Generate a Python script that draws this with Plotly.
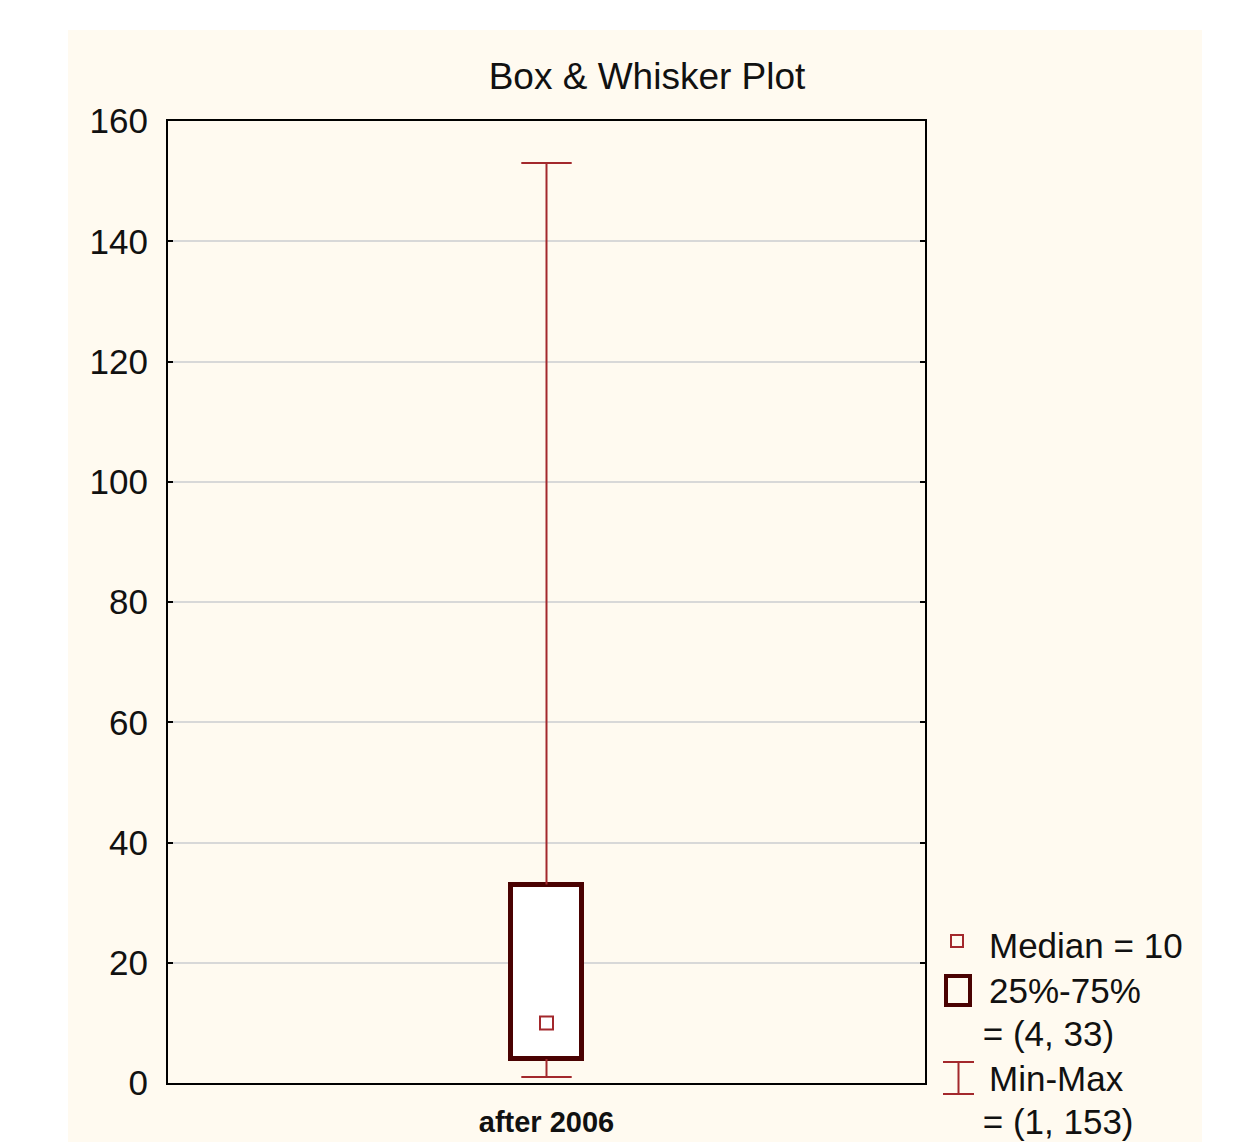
import plotly.graph_objects as go

# ---- data ----
categories = ["after 2006"]
q1_vals = [4]
median_vals = [10]
q3_vals = [33]
min_vals = [1]
max_vals = [153]
y_ticks = [0, 20, 40, 60, 80, 100, 120, 140, 160]

# ---- geometry helpers (page pixel -> paper) for decorations ----
OFF = 8  # default body margin of the html page
W, H = 1239 - OFF, 1142 - OFF
L, R, T, B = 168 - OFF, 925 - OFF, 121 - OFF, 1083 - OFF
def px(x):
    return (x - OFF - L) / (R - L)
def py(y):
    return (B - (y - OFF)) / (B - T)

WHISKER = "#A3282C"
BOXC = "#4A0202"
CREAM = "#FFFAF0"
TXT = "#111111"
FONT = "Liberation Sans, Arial, sans-serif"

fig = go.Figure()

# box (25%-75%)
fig.add_trace(go.Bar(
    x=categories,
    y=[b - a for a, b in zip(q1_vals, q3_vals)],
    base=q1_vals,
    width=0.095,
    marker=dict(color="white", line=dict(color=BOXC, width=5)),
    showlegend=False, hoverinfo="skip",
))

# whisker lines
wx, wy = [], []
for c, lo, a, b, hi in zip(categories, min_vals, q1_vals, q3_vals, max_vals):
    wx += [c, c, None, c, c, None]
    wy += [lo, a, None, b, hi, None]
fig.add_trace(go.Scatter(
    x=wx, y=wy, mode="lines",
    line=dict(color=WHISKER, width=2),
    showlegend=False, hoverinfo="skip",
))

# whisker caps
fig.add_trace(go.Scatter(
    x=categories * 2, y=min_vals + max_vals, mode="markers",
    marker=dict(symbol="line-ew", size=36, line=dict(color=WHISKER, width=2)),
    showlegend=False, hoverinfo="skip",
))

# median
fig.add_trace(go.Scatter(
    x=categories, y=median_vals, mode="markers",
    marker=dict(symbol="square-open", size=13, color=WHISKER,
                line=dict(color=WHISKER, width=2)),
    showlegend=False, hoverinfo="skip",
))

shapes = [
    # cream panel
    dict(type="rect", xref="paper", yref="paper", layer="below",
         x0=px(68), x1=px(1202), y0=py(1160), y1=py(30),
         fillcolor=CREAM, line=dict(width=0)),
    # legend: median icon
    dict(type="rect", xref="paper", yref="paper",
         x0=px(951), x1=px(963), y0=py(947), y1=py(935),
         fillcolor="rgba(0,0,0,0)", line=dict(color=WHISKER, width=2)),
    # legend: box icon
    dict(type="rect", xref="paper", yref="paper",
         x0=px(946), x1=px(970), y0=py(1005), y1=py(976),
         fillcolor="rgba(0,0,0,0)", line=dict(color=BOXC, width=4)),
    # legend: I-beam
    dict(type="line", xref="paper", yref="paper",
         x0=px(943), x1=px(974), y0=py(1062), y1=py(1062),
         line=dict(color=WHISKER, width=2)),
    dict(type="line", xref="paper", yref="paper",
         x0=px(943), x1=px(974), y0=py(1094), y1=py(1094),
         line=dict(color=WHISKER, width=2)),
    dict(type="line", xref="paper", yref="paper",
         x0=px(958.5), x1=px(958.5), y0=py(1062), y1=py(1094),
         line=dict(color=WHISKER, width=2)),
]

legend_texts = [
    (987, 945, f"Median = {median_vals[0]}"),
    (987, 990, "25%-75%"),
    (971, 1033, f" = ({q1_vals[0]}, {q3_vals[0]})"),
    (987, 1078, "Min-Max"),
    (971, 1121, f" = ({min_vals[0]}, {max_vals[0]})"),
]
annotations = []
for x, y, t in legend_texts:
    annotations.append(dict(
        xref="paper", yref="paper", x=px(x), y=py(y),
        xanchor="left", yanchor="middle", text=t, showarrow=False,
        font=dict(family=FONT, size=35, color=TXT),
    ))

fig.update_layout(
    width=W, height=H,
    margin=dict(l=L, r=W - R, t=T, b=H - B, pad=0, autoexpand=False),
    paper_bgcolor="white",
    plot_bgcolor="white",
    showlegend=False,
    bargap=0,
    title=dict(text="Box & Whisker Plot", x=px(647), xref="paper", xanchor="center",
               y=1 - (76 - OFF) / H, yref="container", yanchor="middle",
               font=dict(family=FONT, size=37, color=TXT)),
    shapes=shapes,
    annotations=annotations,
    xaxis=dict(
        type="category", range=[-0.5, 0.5], automargin=False,
        showgrid=False, showline=True, linecolor="black", linewidth=2, mirror=True,
        ticks="", ticklabelstandoff=12,
        tickfont=dict(family=FONT, size=29, color=TXT, weight="bold"),
        zeroline=False, fixedrange=True,
    ),
    yaxis=dict(
        range=[0, 160], tickvals=y_ticks, ticktext=[str(v) for v in y_ticks],
        automargin=False,
        showgrid=True, gridcolor="#D8D8D8", gridwidth=1.5,
        showline=True, linecolor="black", linewidth=2, mirror="ticks",
        ticks="inside", ticklen=5, tickwidth=2, tickcolor="black",
        ticklabelstandoff=11,
        tickfont=dict(family=FONT, size=35, color=TXT),
        zeroline=False, fixedrange=True,
    ),
)

fig.write_html("out.html")
